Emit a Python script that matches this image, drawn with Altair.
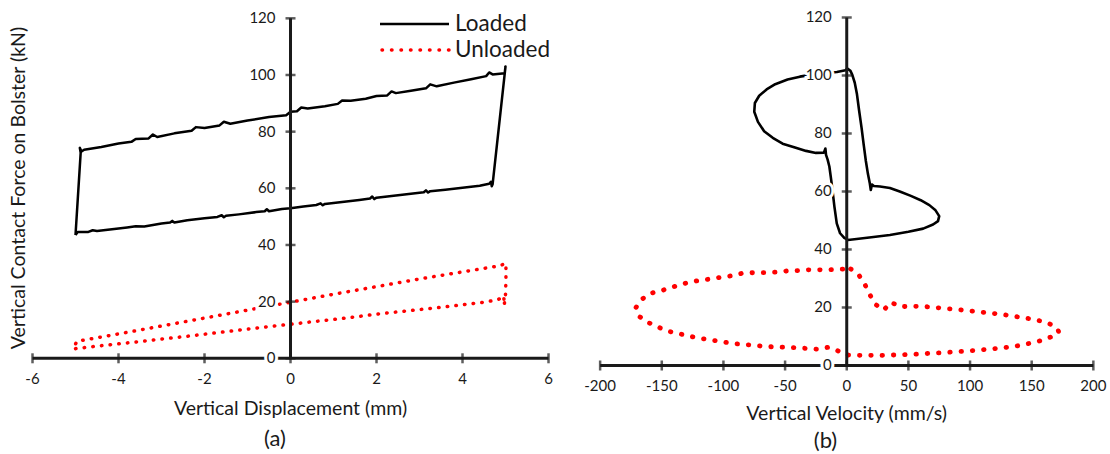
import altair as alt
import pandas as pd

FONT = "Lato"
INK = "#1a1a1a"
RED = "#ff0000"

# ---------------- panel (a): force vs vertical displacement ----------------
disp_loaded = [
    -5.00, -4.95, -4.70, -4.60, -4.50, -4.20, -3.80, -3.60, -3.40, -3.00,
    -2.80, -2.75, -2.70, -2.40, -2.00, -1.70, -1.60, -1.55, -1.50, -1.20,
    -0.80, -0.60, -0.55, -0.50, -0.20, 0.00, 0.30, 0.60, 0.70, 0.75,
    0.80, 1.20, 1.60, 1.85, 1.90, 1.95, 2.00, 2.40, 2.80, 3.10,
    3.15, 3.20, 3.25, 3.60, 4.00, 4.40, 4.62, 4.66, 4.68, 4.70,
    5.00, 4.98, 4.70, 4.62, 4.55, 4.20, 3.80, 3.40, 3.25, 3.15,
    2.80, 2.45, 2.35, 2.25, 2.00, 1.75, 1.40, 1.20, 1.10, 0.80,
    0.40, 0.25, 0.15, 0.00, -0.10, -0.50, -1.00, -1.40, -1.55, -1.65,
    -2.00, -2.20, -2.30, -2.70, -3.10, -3.20, -3.30, -3.60, -3.70, -4.00,
    -4.40, -4.80, -4.86, -4.90, -4.88, -5.00,
]
force_loaded_a = [
    43.5, 44.6, 44.6, 45.2, 44.9, 45.5, 46.2, 46.6, 46.5, 47.6,
    47.9, 48.5, 47.9, 48.7, 49.4, 49.9, 50.5, 49.8, 50.3, 50.8,
    51.6, 51.9, 52.6, 51.9, 52.7, 53.0, 53.6, 54.1, 54.7, 54.0,
    54.5, 55.2, 55.9, 56.4, 57.1, 56.2, 56.7, 57.4, 58.1, 58.6,
    59.3, 58.5, 59.0, 59.5, 60.2, 60.9, 61.6, 62.3, 60.7, 61.4,
    103.0, 100.6, 100.2, 100.9, 99.6, 98.5, 97.3, 96.0, 96.7, 95.3,
    94.4, 93.6, 94.2, 92.8, 92.6, 91.6, 90.9, 91.0, 89.8, 89.0,
    88.2, 88.5, 87.2, 87.0, 85.8, 85.2, 83.9, 82.8, 83.5, 82.2,
    81.3, 81.6, 80.3, 79.4, 78.1, 79.0, 77.6, 77.4, 76.4, 75.8,
    74.6, 73.6, 73.0, 74.3, 72.5, 43.5,
]
disp_unloaded = [
    -5.00, -4.50, -4.00, -3.50, -3.00, -2.50, -2.00, -1.50, -1.00, -0.50,
    0.00, 0.50, 1.00, 1.50, 2.00, 2.50, 3.00, 3.50, 4.00, 4.50,
    4.80, 4.90, 4.96, 4.97, 5.00, 5.01, 5.01, 4.85, 4.00, 3.00,
    2.00, 1.00, 0.00, -1.00, -2.00, -3.00, -4.00, -4.70, -4.97, -5.00,
    -5.00,
]
force_unloaded_a = [
    3.4, 4.3, 5.1, 5.9, 6.8, 7.6, 8.5, 9.4, 10.3, 11.2,
    12.0, 12.9, 13.7, 14.6, 15.6, 16.4, 17.2, 18.0, 18.9, 19.8,
    20.6, 21.2, 22.0, 18.7, 22.5, 28.0, 33.5, 32.6, 30.5, 28.0,
    25.3, 22.6, 19.8, 17.0, 14.2, 11.4, 8.6, 6.7, 6.0, 5.0,
    3.4,
]

# ---------------- panel (b): force vs vertical velocity ----------------
vel_loaded = [
    0.5, 3.0, 4.5, 6.5, 8.3, 10.0, 12.0, 13.8, 15.5, 17.2,
    18.7, 19.5, 20.5, 22.0, 27.0, 35.0, 43.0, 52.0, 60.0, 67.0,
    72.0, 75.0, 74.0, 70.0, 62.0, 50.0, 35.0, 20.0, 8.0, 1.0,
    -2.0, -5.4, -8.1, -10.0, -11.9, -13.0, -14.1, -15.5, -16.8, -17.3,
    -18.5, -25.0, -33.0, -42.0, -52.0, -60.0, -67.0, -72.0, -75.0, -74.5,
    -71.0, -65.0, -58.0, -48.0, -38.0, -28.0, -18.0, -8.0, -1.0, 0.5,
]
force_loaded_b = [
    102.4, 101.6, 100.2, 97.5, 93.5, 88.0, 82.0, 76.0, 70.5, 66.0,
    62.8, 60.5, 62.4, 61.9, 61.7, 61.2, 60.0, 58.5, 57.0, 55.3,
    53.5, 51.5, 49.8, 48.6, 47.2, 46.1, 45.0, 44.2, 43.6, 43.3,
    44.0, 45.6, 49.0, 54.8, 61.7, 65.2, 68.6, 71.0, 72.6, 74.8,
    73.4, 73.3, 74.0, 75.2, 76.5, 78.5, 80.8, 84.0, 87.5, 90.5,
    93.0, 95.2, 97.0, 98.6, 99.6, 100.3, 100.8, 101.2, 101.8, 102.4,
]
vel_unloaded = [
    3.2, 10.3, 15.1, 18.9, 23.2, 30.0, 35.9, 43.2, 51.9, 60.8,
    69.5, 78.4, 87.3, 96.0, 104.9, 113.5, 122.2, 131.1, 139.7, 148.7,
    156.8, 165.4, 171.1, 172.0, 167.6, 159.5, 150.8, 141.9, 133.8, 125.1,
    116.2, 107.3, 98.6, 89.7, 81.1, 72.2, 63.5, 54.3, 45.4, 36.5,
    27.8, 18.9, 10.2, 1.3, -6.8, -14.9, -23.5, -32.4, -40.6, -49.2,
    -58.4, -67.6, -76.2, -85.2, -93.3, -101.9, -110.6, -119.0, -127.7, -136.3,
    -144.7, -152.8, -160.9, -167.9, -171.1, -166.3, -159.0, -150.9, -143.3, -135.2,
    -127.1, -118.4, -109.5, -100.9, -92.0, -83.9, -75.2, -66.3, -57.6, -48.7,
    -40.1, -31.4, -22.7, -14.1, -5.4, 3.2,
]
force_unloaded_b = [
    33.3, 30.9, 27.6, 24.3, 21.1, 19.1, 21.8, 20.3, 20.4, 20.4,
    20.1, 19.7, 19.4, 19.0, 18.6, 18.2, 17.8, 17.3, 16.7, 16.1,
    15.4, 14.2, 12.6, 11.4, 10.2, 8.8, 7.9, 7.0, 6.5, 6.0,
    5.7, 5.3, 5.0, 4.8, 4.5, 4.3, 4.1, 3.9, 3.7, 3.6,
    3.5, 3.5, 3.5, 3.6, 5.0, 6.3, 5.6, 5.9, 6.1, 6.3,
    6.4, 6.6, 7.0, 7.3, 7.6, 8.3, 8.8, 9.4, 10.1, 11.0,
    11.8, 13.2, 14.8, 16.8, 19.9, 22.8, 24.9, 25.7, 26.8, 27.8,
    28.8, 29.4, 29.9, 30.5, 31.0, 31.9, 32.0, 32.0, 32.2, 32.6,
    32.7, 33.0, 33.0, 33.0, 33.2, 33.3,
]

# ---------------- axes and captions ----------------
disp_ticks = [-6, -4, -2, 0, 2, 4, 6]
vel_ticks = [-200, -150, -100, -50, 0, 50, 100, 150, 200]
force_ticks = [0, 20, 40, 60, 80, 100, 120]

y_title = "Vertical Contact Force on Bolster (kN)"
x_title_a = "Vertical Displacement (mm)"
x_title_b = "Vertical Velocity (mm/s)"
caption_a = "(a)"
caption_b = "(b)"
series_names = ["Loaded", "Unloaded"]

PANEL_W, PANEL_H = 555, 454
TICK_FS = 15
TITLE_FS = 19.5


def series_frame(xs, ys):
    return pd.DataFrame({"x": xs, "y": ys, "i": list(range(len(xs)))})


def panel(xdom, ydom, x_ticks, loaded, unloaded, red_w, red_dash, black_w, texts):
    xs = alt.Scale(domain=xdom, nice=False, zero=False)
    ys = alt.Scale(domain=ydom, nice=False, zero=False)

    def X(f):
        return alt.X(f"{f}:Q", scale=xs, axis=None)

    def Y(f):
        return alt.Y(f"{f}:Q", scale=ys, axis=None)

    layers = []
    # data series
    layers.append(
        alt.Chart(series_frame(*unloaded)).mark_line(
            color=RED, strokeWidth=red_w, strokeDash=red_dash, strokeCap="round"
        ).encode(x=X("x"), y=Y("y"), order="i:Q")
    )
    layers.append(
        alt.Chart(series_frame(*loaded)).mark_line(
            color="black", strokeWidth=black_w, strokeJoin="round"
        ).encode(x=X("x"), y=Y("y"), order="i:Q")
    )

    # axis lines crossing at the origin
    xaxis = pd.DataFrame({"x": [min(x_ticks)], "x2": [max(x_ticks)], "y": [0]})
    yaxis = pd.DataFrame({"x": [0], "y": [min(force_ticks)], "y2": [max(force_ticks)]})
    layers.append(alt.Chart(xaxis).mark_rule(color=INK, strokeWidth=3).encode(
        x=X("x"), x2="x2:Q", y=Y("y")))
    layers.append(alt.Chart(yaxis).mark_rule(color=INK, strokeWidth=3).encode(
        x=X("x"), y=Y("y"), y2="y2:Q"))

    xt = pd.DataFrame({"v": x_ticks, "z": [0] * len(x_ticks),
                       "lab": [str(v) for v in x_ticks]})
    yt = pd.DataFrame({"v": force_ticks, "z": [0] * len(force_ticks),
                       "lab": [str(v) for v in force_ticks]})
    layers.append(alt.Chart(xt).mark_tick(orient="vertical", size=10, thickness=2.5,
                                          color=INK).encode(x=X("v"), y=Y("z")))
    layers.append(alt.Chart(yt).mark_tick(orient="horizontal", size=10, thickness=2.5,
                                          color=INK).encode(x=X("z"), y=Y("v")))

    # tick labels (y labels sit on a white patch, like a label box)
    layers.append(alt.Chart(yt).mark_text(
        dx=-15, align="right", baseline="middle", font=FONT, fontSize=TICK_FS,
        color="white", stroke="white", strokeWidth=6
    ).encode(x=X("z"), y=Y("v"), text="lab:N"))
    layers.append(alt.Chart(yt).mark_text(
        dx=-15, align="right", baseline="middle", font=FONT, fontSize=TICK_FS, color=INK
    ).encode(x=X("z"), y=Y("v"), text="lab:N"))
    layers.append(alt.Chart(xt).mark_text(
        dy=21, align="center", baseline="middle", font=FONT, fontSize=TICK_FS, color=INK
    ).encode(x=X("v"), y=Y("z"), text="lab:N"))

    # titles and captions
    for txt, px, py, size, angle in texts:
        layers.append(alt.Chart(pd.DataFrame({"t": [txt]})).mark_text(
            align="center", baseline="middle", font=FONT, fontSize=size,
            color=INK, angle=angle
        ).encode(x=alt.value(px), y=alt.value(py), text="t:N"))

    return layers


layers_a = panel(
    [-6.756, 6.151], [-33.78, 126.47], disp_ticks,
    (disp_loaded, force_loaded_a), (disp_unloaded, force_unloaded_a),
    3.5, [0.5, 8.2], 2.5,
    [(x_title_a, 290.5, 409, TITLE_FS, 0), (caption_a, 275, 439, 22, 0),
     (y_title, 19, 188, TITLE_FS, 270)],
)

# legend
legend_df = pd.DataFrame({"name": series_names, "y": [24, 50]})
legend_solid = alt.Chart(legend_df.iloc[[0]]).mark_rule(color="black", strokeWidth=2.5).encode(
    x=alt.value(380), x2=alt.value(449), y=alt.value(24))
legend_dot = alt.Chart(legend_df.iloc[[1]]).mark_rule(
    color=RED, strokeWidth=3.5, strokeDash=[0.5, 9.0], strokeCap="round"
).encode(x=alt.value(382), x2=alt.value(449), y=alt.value(50))
legend_text = alt.Chart(legend_df).mark_text(
    align="left", baseline="middle", font=FONT, fontSize=22.5, color=INK
).encode(x=alt.value(455), y=alt.Y("y:Q", scale=None, axis=None), text="name:N")

panel_a = alt.layer(*layers_a, legend_solid, legend_dot, legend_text).properties(
    width=PANEL_W, height=PANEL_H)

layers_b = panel(
    [-236.6, 213.5], [-30.52, 126.03], vel_ticks,
    (vel_loaded, force_loaded_b), (vel_unloaded, force_unloaded_b),
    4.8, [0.5, 10.8], 2.6,
    [(x_title_b, 291.7, 414, TITLE_FS, 0), (caption_b, 270.5, 441, 22, 0)],
)
panel_b = alt.layer(*layers_b).properties(width=PANEL_W, height=PANEL_H)

chart = alt.hconcat(panel_a, panel_b, spacing=0).properties(
    padding=0, background="white"
).configure_view(stroke=None)

chart.save("out.html", embed_options={"renderer": "svg", "actions": False})
